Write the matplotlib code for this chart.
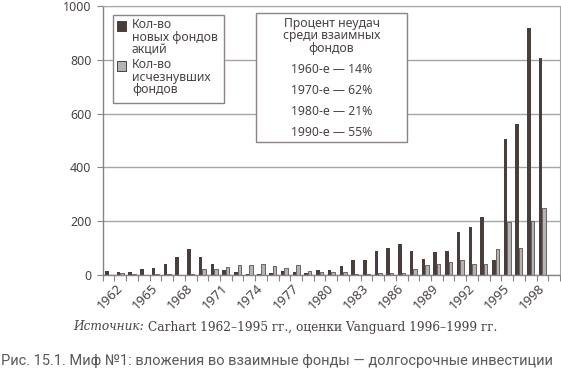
import numpy as np
import matplotlib
matplotlib.use('Agg')
import matplotlib.pyplot as plt
from matplotlib.patches import Rectangle

# данные (1962-1999)
years = list(range(1962, 2000))
new_funds = [16, 13, 11, 22, 27, 40, 66, 95, 68, 41,
             20, 11, 2, 5, 7, 16, 11, 6, 18, 18,
             32, 54, 54, 91, 100, 117, 88, 58, 84, 89,
             159, 179, 216, 56, 505, 560, 918, 805]
dead_funds = [1, 9, 5, 1, 5, 5, 1, 3, 22, 22,
              31, 38, 36, 40, 33, 25, 38, 14, 10, 11,
              11, 5, 5, 6, 6, 6, 22, 37, 41, 47,
              56, 42, 42, 95, 197, 102, 200, 249]
label_years = list(range(1962, 1999, 3))
y_ticks = [0, 200, 400, 600, 800, 1000]

legend_labels = ['Кол-во\nновых фондов\nакций', 'Кол-во\nисчезнувших\nфондов']
box_title = 'Процент неудач\nсреди взаимных\nфондов'
box_lines = ['1960-е — 14%', '1970-е — 62%', '1980-е — 21%', '1990-е — 55%']

DARK = '#4a3e3b'
LIGHT = '#b4b4b4'
EDGE = '#5a5050'
TXT = '#4a4242'
GRID = '#aaa5a5'

W, H = 561, 373
plt.rcParams['font.family'] = ['Noto Sans', 'DejaVu Sans']


def fx(px):
    return px / W


def fy(py):
    return 1 - py / H


fig = plt.figure(figsize=(W / 100, H / 100), dpi=100)
ax = fig.add_axes([fx(102.7), fy(275), fx(560) - fx(102.7), fy(6) - fy(275)])

idx = np.arange(len(years))
ax.bar(idx + 0.35, new_funds, width=0.3, color=DARK, linewidth=0, zorder=2)
ax.bar(idx + 0.65, dead_funds, width=0.3, color=LIGHT, edgecolor=EDGE,
       linewidth=0.6, zorder=2)

ax.set_xlim(0, len(years) + 1)
ax.set_ylim(0, 1000)
ax.set_yticks(y_ticks)
ax.set_yticklabels([str(v) for v in y_ticks], fontsize=9, color=TXT)
ax.yaxis.grid(True, color=GRID, linewidth=1)
ax.set_axisbelow(True)

ax.set_xticks([years.index(y) + 0.6 for y in label_years])
ax.set_xticklabels([str(y) for y in label_years], rotation=45, ha='center',
                   fontsize=9.5, color=TXT)
ax.set_xticks(np.arange(0, len(years) + 2), minor=True)
ax.tick_params(axis='x', which='major', length=0, pad=5)
ax.tick_params(axis='x', which='minor', length=4, width=0.8, color='#8a8282')
ax.tick_params(axis='y', length=4, width=0.8, color='#8a8282', pad=4)

for s in ['left', 'bottom']:
    ax.spines[s].set_color('#8a8282')
    ax.spines[s].set_linewidth(1)
ax.spines['top'].set_color(GRID)
ax.spines['right'].set_color(GRID)

# легенда
ax.add_patch(Rectangle((fx(113), fy(103)), fx(224) - fx(113), fy(15) - fy(103),
                       transform=fig.transFigure, facecolor='white',
                       edgecolor='#8c8484', linewidth=1, zorder=5, clip_on=False))
for i, (lab, col) in enumerate(zip(legend_labels, [DARK, LIGHT])):
    top = 21.5 + i * 40
    ax.add_patch(Rectangle((fx(117), fy(top + 9)), fx(9), fy(0) - fy(9),
                           transform=fig.transFigure, facecolor=col,
                           edgecolor='#4a4040', linewidth=0.7, zorder=6, clip_on=False))
    fig.text(fx(132), fy(top - 3), lab, fontsize=8.8, color=TXT, ha='left', va='top',
             linespacing=0.93, zorder=7)

# блок с процентами
ax.add_patch(Rectangle((fx(256), fy(142)), fx(407) - fx(256), fy(13) - fy(142),
                       transform=fig.transFigure, facecolor='white',
                       edgecolor='#8c8484', linewidth=1, zorder=5, clip_on=False))
fig.text(fx(331.5), fy(17), box_title, fontsize=8.8, color=TXT, ha='center', va='top',
         linespacing=0.93, zorder=7)
for i, line in enumerate(box_lines):
    fig.text(fx(332), fy(69.5 + i * 21), line, fontsize=8.8, color=TXT,
             ha='center', va='center', zorder=7)

# подписи снизу
src1 = fig.text(fx(73), fy(327), 'Источник:', fontsize=8.7, color=TXT,
                family='DejaVu Serif', style='italic', ha='left', va='center')
fig.canvas.draw()
bb = src1.get_window_extent()
fig.text(bb.x1 / W + fx(4), fy(327), 'Carhart 1962–1995 гг., оценки Vanguard 1996–1999 гг.',
         fontsize=8.7, color=TXT, family='DejaVu Serif', ha='left', va='center')

fig.text(fx(277), fy(361), 'Рис. 15.1. Миф №1: вложения во взаимные фонды — долгосрочные инвестиции',
         fontsize=10.5, color='#5a5a5a', family=['Roboto', 'DejaVu Sans'],
         ha='center', va='center')

fig.savefig('out.png', dpi=100)
